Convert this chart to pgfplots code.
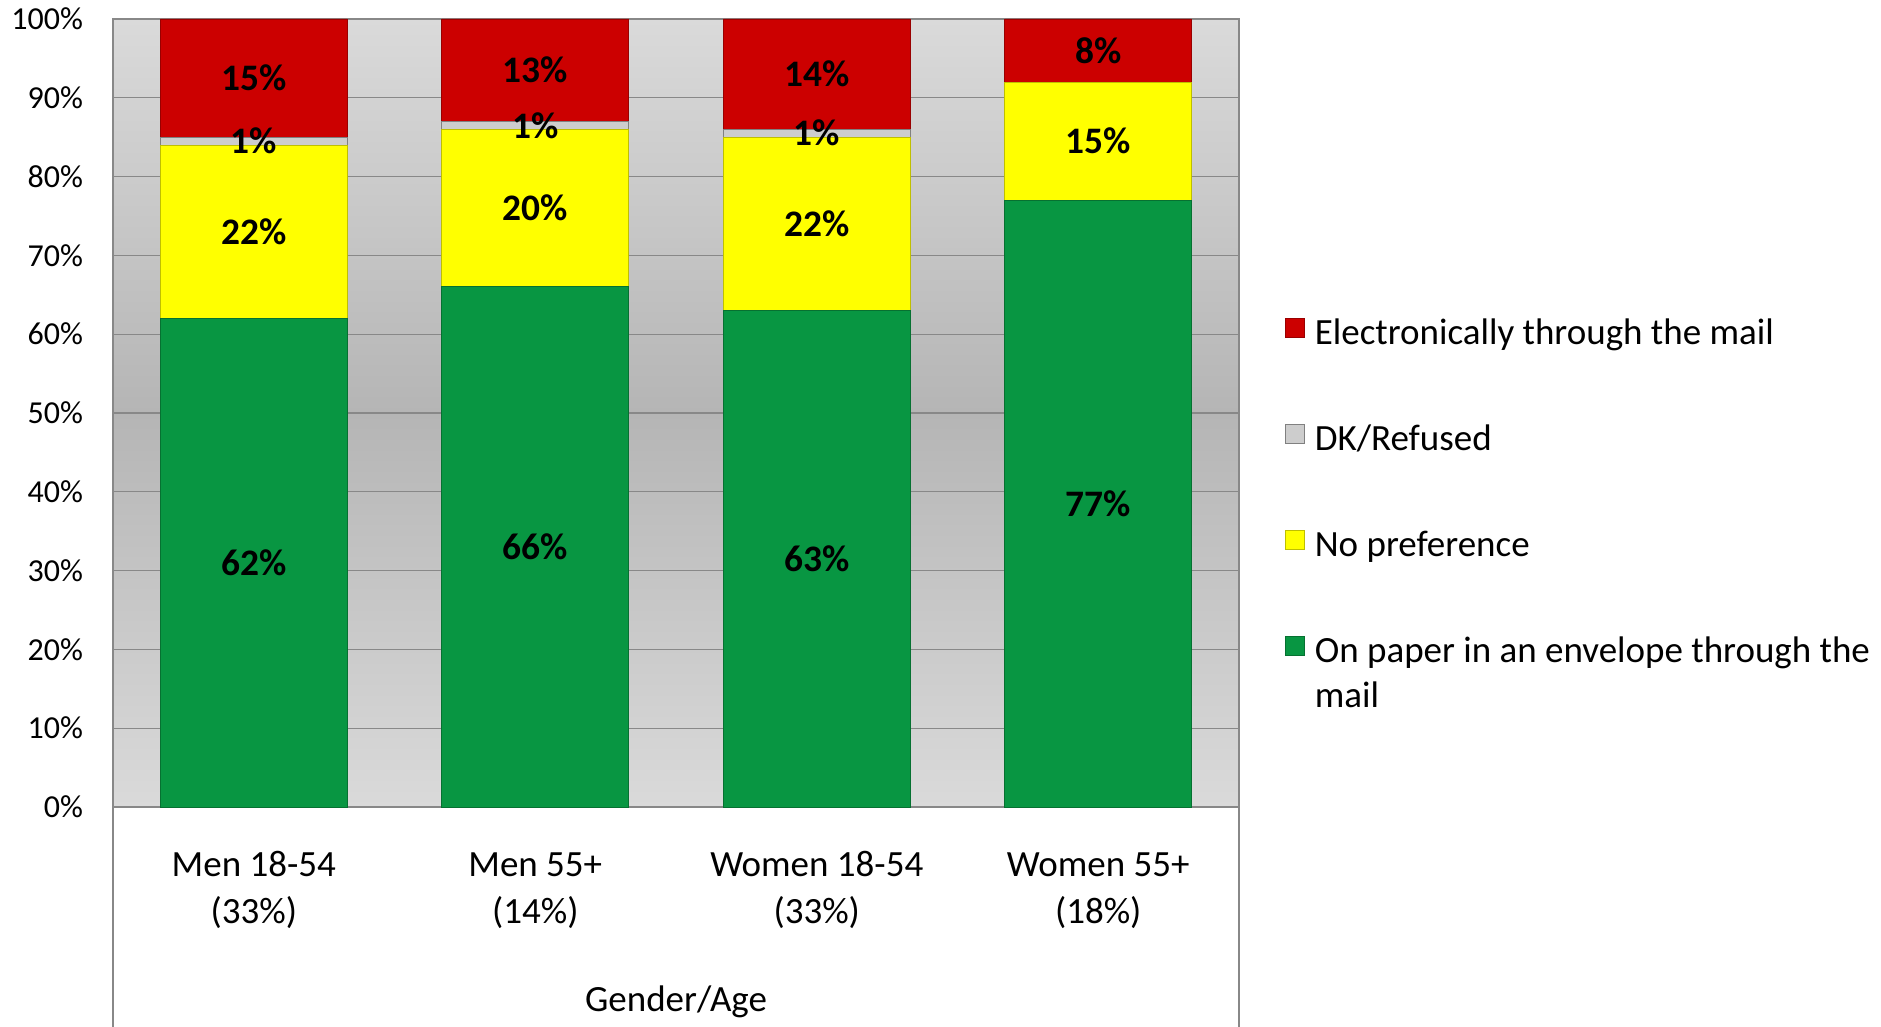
\documentclass[border=0pt]{standalone}
\usepackage{fontspec}
\setmainfont{Carlito}
\usepackage{pgfplots}
\pgfplotsset{compat=1.18}
\usepackage{pgfplotstable}

\definecolor{elred}{RGB}{204,0,0}
\definecolor{dkgray}{RGB}{205,205,205}
\definecolor{noyel}{RGB}{255,255,0}
\definecolor{papgreen}{RGB}{8,150,66}
\definecolor{bgedge}{RGB}{218,218,218}
\definecolor{bgmid}{RGB}{181,181,181}
\definecolor{gridc}{RGB}{136,136,136}

% label positions = middle of each stacked segment
\pgfplotstableread{
x  y     lab
0  31    62
1  33    66
2  31.5  63
3  38.5  77
0  73    22
1  76    20
2  74    22
3  84.5  15
0  84.5  1
1  86.5  1
2  85.5  1
0  92.5  15
1  93.5  13
2  93    14
3  96    8
}\labtable

\begin{document}
\begin{tikzpicture}
\pgfplotsset{
  base/.style={
    scale only axis,
    width=563pt, height=394pt,
    xmin=-0.5, xmax=3.5, ymin=0, ymax=100,
  },
}
\begin{axis}[
  base,
  ybar stacked,
  bar width=93.5pt,
  clip=false,
  axis background/.style={shade, top color=bgedge, bottom color=bgedge, middle color=bgmid},
  axis line style={draw=gridc, line width=0.6pt},
  ymajorgrids, grid style={draw=gridc, line width=0.6pt},
  major tick length=0pt,
  xtick={0,1,2,3},
  xticklabels={Men 18-54\\(33\%), Men 55+\\(14\%), Women 18-54\\(33\%), Women 55+\\(18\%)},
  xticklabel style={align=center, font=\fontsize{18.5}{23.4}\selectfont, yshift=-41.6pt,
    text height=13pt},
  ytick={0,10,...,100},
  yticklabels={0\%,10\%,20\%,30\%,40\%,50\%,60\%,70\%,80\%,90\%,100\%},
  yticklabel style={font=\fontsize{16}{18}\selectfont, xshift=-11.5pt},
  xlabel={Gender/Age},
  every axis x label/.style={at={(axis description cs:0.5,-0.2467)}, anchor=center, font=\fontsize{18.5}{20}\selectfont},
]
\addplot[fill=papgreen, draw=papgreen!75!black] coordinates {(0,62) (1,66) (2,63) (3,77)};
\addplot[fill=noyel, draw=noyel!75!black] coordinates {(0,22) (1,20) (2,22) (3,15)};
\addplot[fill=dkgray, draw=gray] coordinates {(0,1) (1,1) (2,1) (3,0)};
\addplot[fill=elred, draw=elred!75!black] coordinates {(0,15) (1,13) (2,14) (3,8)};
% extended frame under the category axis
\draw[gridc, line width=0.6pt] (rel axis cs:0,0) -- (rel axis cs:0,-0.2792);
\draw[gridc, line width=0.6pt] (rel axis cs:1,0) -- (rel axis cs:1,-0.2792);
\coordinate (bl) at (rel axis cs:-0.1004,-0.2792);
\coordinate (tr) at (rel axis cs:1.5702,1.0241);
\end{axis}

\begin{axis}[
  base,
  hide axis,
  clip=false,
  legend style={at={(rel axis cs:1.0409,0.6206)}, anchor=north west, draw=none, fill=none,
    inner sep=0pt, outer sep=0pt, row sep=35.8pt, column sep=5pt,
    font=\fontsize{18.5}{22.8}\selectfont,
    nodes={inner sep=0pt, text height=12pt, text depth=4pt}},
  legend cell align=left,
  legend image code/.code={\draw[#1] (0pt,-0.5pt) rectangle (9.5pt,9pt);},
]
\addlegendimage{fill=elred, draw=elred!75!black}
\addlegendentry{Electronically through the mail}
\addlegendimage{fill=dkgray, draw=gray}
\addlegendentry{DK/Refused}
\addlegendimage{fill=noyel, draw=noyel!75!black}
\addlegendentry{No preference}
\addlegendimage{fill=papgreen, draw=papgreen!75!black}
\addlegendentry{\begin{tabular}[t]{@{}l@{}}On paper in an envelope through the\\mail\end{tabular}}
\addplot[only marks, mark=none, forget plot,
  nodes near coords={\textbf{\pgfplotspointmeta\%}},
  point meta=explicit symbolic,
  every node near coord/.style={anchor=center, font=\fontsize{18.7}{20}\selectfont, inner sep=0pt},
] table[x=x, y=y, meta=lab] {\labtable};
\end{axis}
\pgfresetboundingbox
\path (bl) rectangle (tr);
\end{tikzpicture}
\end{document}
